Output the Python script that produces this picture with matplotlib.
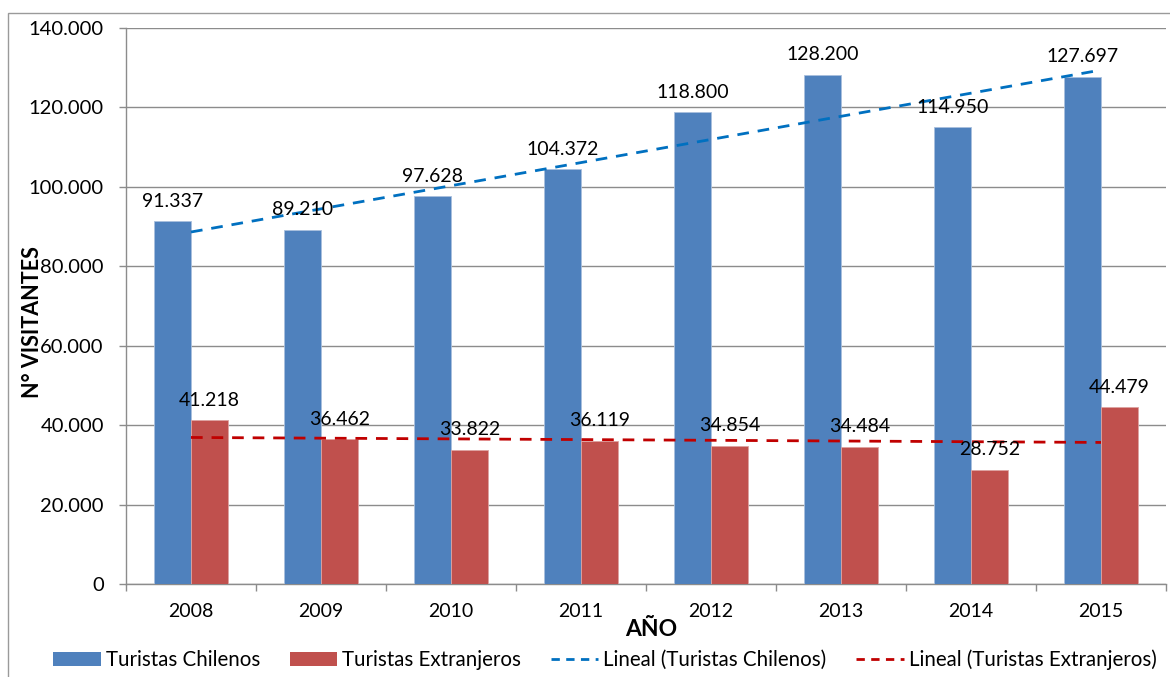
import numpy as np
import matplotlib
matplotlib.use("Agg")
import matplotlib.pyplot as plt
from matplotlib.patches import Patch, Rectangle
from matplotlib.lines import Line2D
from matplotlib.ticker import FuncFormatter, FixedLocator

plt.rcParams['font.family'] = ['Lato', 'DejaVu Sans']

years = ['2008', '2009', '2010', '2011', '2012', '2013', '2014', '2015']
chilenos = [91337, 89210, 97628, 104372, 118800, 128200, 114950, 127697]
extranjeros = [41218, 36462, 33822, 36119, 34854, 34484, 28752, 44479]

BLUE = '#4F81BD'
RED = '#C0504D'
TREND_BLUE = '#0070C0'
TREND_RED = '#C00000'
GRID = '#8C8C8C'
FS = 14


def miles(v):
    return f"{int(round(v)):,}".replace(",", ".")


W, H = 1170, 677
fig = plt.figure(figsize=(W / 100, H / 100), dpi=100)
ax = fig.add_axes([126 / W, (H - 584) / H, 1040 / W, 556 / H])

x = np.arange(len(years))
bw = 0.285
b1 = ax.bar(x - bw / 2, chilenos, bw, color=BLUE, edgecolor='#A9C0DE', linewidth=0.6, zorder=3)
b2 = ax.bar(x + bw / 2, extranjeros, bw, color=RED, edgecolor='#DDA3A1', linewidth=0.6, zorder=3)

# Linear trendlines (least squares over the category index)
for vals, col in ((chilenos, TREND_BLUE), (extranjeros, TREND_RED)):
    m, c = np.polyfit(x, vals, 1)
    ax.plot(x, m * x + c, color=col, lw=2.0, dashes=(4.2, 3.2), zorder=4)

# Value labels
for bars, vals in ((b1, chilenos), (b2, extranjeros)):
    for r, v in zip(bars, vals):
        ax.annotate(miles(v), (r.get_x() + r.get_width() / 2, v), xytext=(0, 14.5),
                    textcoords='offset points', ha='center', va='center',
                    fontsize=FS, color='black', zorder=5)

ax.set_xlim(-0.5, len(years) - 0.5)
ax.set_ylim(0, 140000)
ax.yaxis.set_major_locator(FixedLocator(np.arange(0, 140001, 20000)))
ax.yaxis.set_major_formatter(FuncFormatter(lambda v, p: miles(v)))
ax.yaxis.grid(True, color=GRID, lw=1.0, zorder=0)
ax.set_axisbelow(True)

ax.set_xticks(np.arange(-0.5, len(years)), labels=[''] * (len(years) + 1))
ax.set_xticks(x, labels=years, minor=True)
ax.tick_params(axis='x', which='major', length=5, width=1, color=GRID, direction='out')
ax.tick_params(axis='x', which='minor', length=0, pad=14, labelsize=FS)
ax.tick_params(axis='y', length=5, width=1, color=GRID, direction='out', pad=11, labelsize=14.5)

for s in ('top', 'right'):
    ax.spines[s].set_visible(False)
for s in ('left', 'bottom'):
    ax.spines[s].set_color(GRID)
    ax.spines[s].set_linewidth(1.0)

fig.text(651 / W, 1 - 629 / H, 'AÑO', ha='center', va='center', fontsize=16.5, fontweight='bold')
fig.text(33 / W, 1 - 322 / H, 'N° VISITANTES', ha='center', va='center', rotation=90,
         fontsize=15.5, fontweight='bold')

handles = [
    Patch(facecolor=BLUE, edgecolor='none'),
    Patch(facecolor=RED, edgecolor='none'),
    Line2D([], [], color=TREND_BLUE, lw=2.0, dashes=(3.0, 2.3)),
    Line2D([], [], color=TREND_RED, lw=2.0, dashes=(3.0, 2.3)),
]
labels = ['Turistas Chilenos', 'Turistas Extranjeros',
          'Lineal (Turistas Chilenos)', 'Lineal (Turistas Extranjeros)']
LFS = 14.8
fig.legend(handles, labels, loc='center', bbox_to_anchor=(605 / W, 1 - 660 / H), ncol=4,
           frameon=False, fontsize=LFS, handlelength=2.3, handleheight=0.7,
           handletextpad=0.25, columnspacing=1.45, borderaxespad=0)

# Chart frame
fig.patches.append(Rectangle((8 / W, -0.2), 2, 1.2 - 13 / H, transform=fig.transFigure,
                             fill=False, edgecolor='#9A9A9A', lw=1.0, clip_on=False))

fig.savefig('out.png', dpi=100)
